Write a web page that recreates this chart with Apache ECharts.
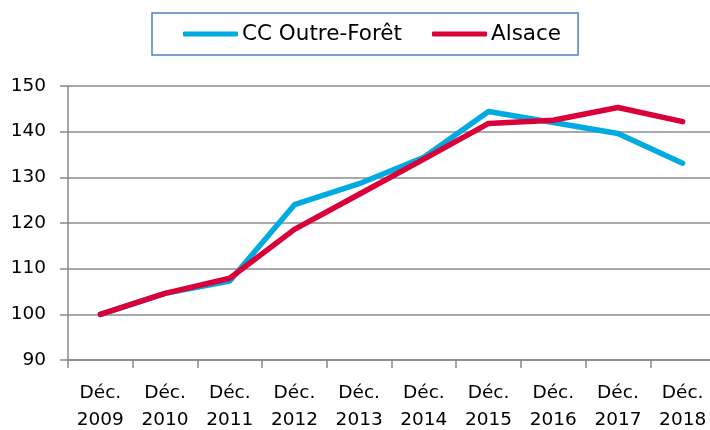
<!DOCTYPE html>
<html><head><meta charset="utf-8">
<script src="https://cdn.jsdelivr.net/npm/echarts@6/dist/echarts.min.js"></script>
<style>html,body{margin:0;padding:0;background:#fff}#c{width:710px;height:430px}</style>
</head><body><div id="c"></div>
<script>
const categories = ['Déc.\n2009','Déc.\n2010','Déc.\n2011','Déc.\n2012','Déc.\n2013','Déc.\n2014','Déc.\n2015','Déc.\n2016','Déc.\n2017','Déc.\n2018'];
const outreForet = [100, 104.6, 107.3, 124.0, 128.6, 134.4, 144.4, 142.0, 139.6, 133.1];
const alsace = [100, 104.6, 107.9, 118.6, 126.3, 134.0, 141.8, 142.5, 145.3, 142.2];
const seriesNames = ['CC Outre-Forêt', 'Alsace'];
const FONT = 'DejaVu Sans';
const chart = echarts.init(document.getElementById('c'), null, {renderer:'canvas'});
chart.setOption({
  animation: false,
  color: ['#00abe1', '#da0039'],
  legend: {
    left: 152, top: 13,
    padding: [10, 17, 10, 31],
    borderColor: '#4f81bd', borderWidth: 1.5,
    itemWidth: 55, itemHeight: 5, itemGap: 30,
    icon: 'roundRect',
    textStyle: {fontFamily: FONT, fontSize: 21.5, color: '#000', padding: [0,0,0,-1]},
    data: seriesNames
  },
  grid: {left: 68, right: -5, top: 86, bottom: 70, containLabel: false, outerBoundsMode: 'none'},
  xAxis: {
    type: 'category', data: categories, boundaryGap: true,
    axisLine: {lineStyle: {color: '#888', width: 1.5}},
    axisTick: {show: true, length: 8, interval: 0, lineStyle: {color: '#888', width: 1.5}},
    axisLabel: {interval: 0, margin: 20, fontFamily: FONT, fontSize: 18.5, color: '#000', lineHeight: 27}
  },
  yAxis: {
    type: 'value', min: 90, max: 150, interval: 10,
    axisLine: {show: true, lineStyle: {color: '#888', width: 1.5}},
    axisTick: {show: true, length: 8, lineStyle: {color: '#888', width: 1.5}},
    splitLine: {lineStyle: {color: '#8c8c8c', width: 1.5}},
    axisLabel: {margin: 22, fontFamily: FONT, fontSize: 18.5, color: '#000'}
  },
  series: [
    {name: seriesNames[0], type: 'line', data: outreForet, showSymbol: false, lineStyle: {width: 5.5, cap: 'round', join: 'round'}},
    {name: seriesNames[1], type: 'line', data: alsace, showSymbol: false, lineStyle: {width: 5.5, cap: 'round', join: 'round'}}
  ]
});
</script></body></html>
